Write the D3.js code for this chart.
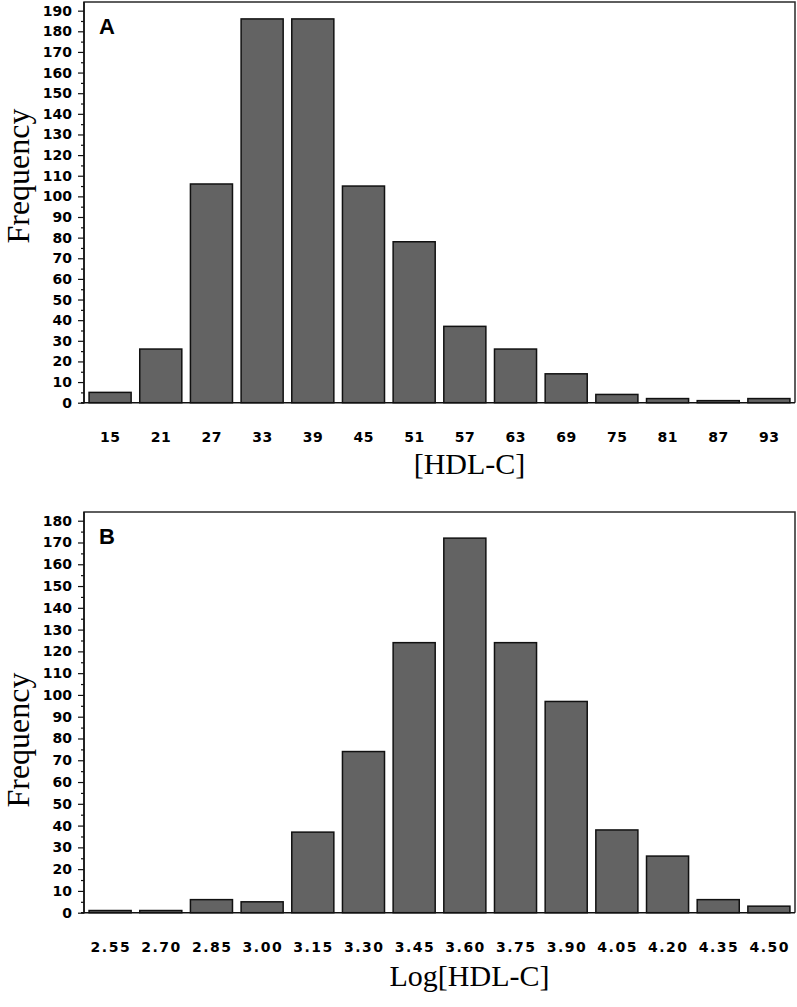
<!DOCTYPE html>
<html>
<head>
<meta charset="utf-8">
<script src="https://cdn.jsdelivr.net/npm/d3@7"></script>
<style>
  html, body { margin: 0; padding: 0; background: #fff; }
  svg { display: block; }
</style>
</head>
<body>
<script>
// ---- Data ----
const hdlCategories = ["15","21","27","33","39","45","51","57","63","69","75","81","87","93"];
const hdlFrequency  = [5, 26, 106, 186, 186, 105, 78, 37, 26, 14, 4, 2, 1, 2];

const logCategories = ["2.55","2.70","2.85","3.00","3.15","3.30","3.45","3.60","3.75","3.90","4.05","4.20","4.35","4.50"];
const logFrequency  = [1, 1, 6, 5, 37, 74, 124, 172, 124, 97, 38, 26, 6, 3];

const hdlYTicks = [0,10,20,30,40,50,60,70,80,90,100,110,120,130,140,150,160,170,180,190];
const logYTicks = [0,10,20,30,40,50,60,70,80,90,100,110,120,130,140,150,160,170,180];

const panels = [
  { label: "A", cats: hdlCategories, vals: hdlFrequency, ticks: hdlYTicks, yMax: 194.2,
    top: 2, bottom: 402.7, xTitle: "[HDL-C]", xTitleY: 474, xLabelY: 39.5, xSpacing: 0.5, yTitleY: 176 },
  { label: "B", cats: logCategories, vals: logFrequency, ticks: logYTicks, yMax: 184,
    top: 512, bottom: 912.7, xTitle: "Log[HDL-C]", xTitleY: 986, xLabelY: 39, xSpacing: 1.5, yTitleY: 740 }
];

const W = 797, H = 1007;
const left = 84, right = 795;

const svg = d3.select("body").append("svg")
  .attr("width", W).attr("height", H)
  .attr("viewBox", `0 0 ${W} ${H}`);

panels.forEach(p => {
  const g = svg.append("g");

  const x = d3.scaleBand()
    .domain(p.cats)
    .range([left, right])
    .paddingInner(0.17)
    .paddingOuter(0.1);

  const y = d3.scaleLinear()
    .domain([0, p.yMax])
    .range([p.bottom, p.top]);

  // frame (top, right)
  g.append("path")
    .attr("d", `M${left},${p.bottom}V${p.top}H${right}V${p.bottom}`)
    .attr("fill", "none").attr("stroke", "#2a2a2a").attr("stroke-width", 1.5);

  // bars
  g.selectAll("rect.bar")
    .data(p.vals)
    .join("rect")
    .attr("class", "bar")
    .attr("x", (d, i) => x(p.cats[i]))
    .attr("width", x.bandwidth())
    .attr("y", d => y(d))
    .attr("height", d => y(0) - y(d))
    .attr("fill", "#636363")
    .attr("stroke", "#111")
    .attr("stroke-width", 1.5);

  // minor y ticks (every 5)
  const minor = p.ticks.slice(0, -1).map(t => t + 5);
  const yMinor = d3.axisLeft(y).tickValues(minor).tickSize(3).tickFormat("");
  const gm = g.append("g").attr("transform", `translate(${left},0)`).call(yMinor);
  gm.select(".domain").remove();
  gm.selectAll("line").attr("stroke", "#111").attr("stroke-width", 1.2);

  // major y axis
  const yAxis = d3.axisLeft(y).tickValues(p.ticks).tickSize(6).tickPadding(6).tickFormat(d3.format("d"));
  const gy = g.append("g").attr("transform", `translate(${left},0)`).call(yAxis);
  gy.select(".domain")
    .attr("d", `M-3,${p.bottom}H0V${p.top}`)
    .attr("stroke", "#111").attr("stroke-width", 1.5);
  gy.selectAll("line").attr("stroke", "#111").attr("stroke-width", 1.2);
  gy.selectAll("text")
    .attr("font-family", "'DejaVu Sans', sans-serif")
    .attr("font-weight", "bold")
    .attr("font-size", 14)
    .attr("fill", "#000");

  // x axis (baseline + labels, no ticks)
  const xAxis = d3.axisBottom(x).tickSize(0);
  const gx = g.append("g").attr("transform", `translate(0,${p.bottom})`).call(xAxis);
  gx.select(".domain")
    .attr("d", `M${left},0H${right}`)
    .attr("stroke", "#111").attr("stroke-width", 1.5);
  gx.selectAll("text")
    .attr("y", p.xLabelY)
    .attr("dy", 0)
    .attr("dx", p.xSpacing / 2)
    .attr("letter-spacing", p.xSpacing)
    .attr("font-family", "'DejaVu Sans', sans-serif")
    .attr("font-weight", "bold")
    .attr("font-size", 14)
    .attr("fill", "#000");

  // panel letter
  g.append("text")
    .attr("x", 99).attr("y", p.top + 32)
    .attr("font-family", "'Liberation Sans', Arial, sans-serif")
    .attr("font-weight", "bold")
    .attr("font-size", 22)
    .text(p.label);

  // x title
  g.append("text")
    .attr("x", (left + right) / 2 + 30)
    .attr("y", p.xTitleY)
    .attr("text-anchor", "middle")
    .attr("font-family", "'Liberation Serif', 'Times New Roman', serif")
    .attr("font-size", 30)
    .text(p.xTitle);

  // y title
  g.append("text")
    .attr("transform", `translate(29,${p.yTitleY}) rotate(-90)`)
    .attr("text-anchor", "middle")
    .attr("font-family", "'Liberation Serif', 'Times New Roman', serif")
    .attr("font-size", 32)
    .text("Frequency");
});
</script>
</body>
</html>
